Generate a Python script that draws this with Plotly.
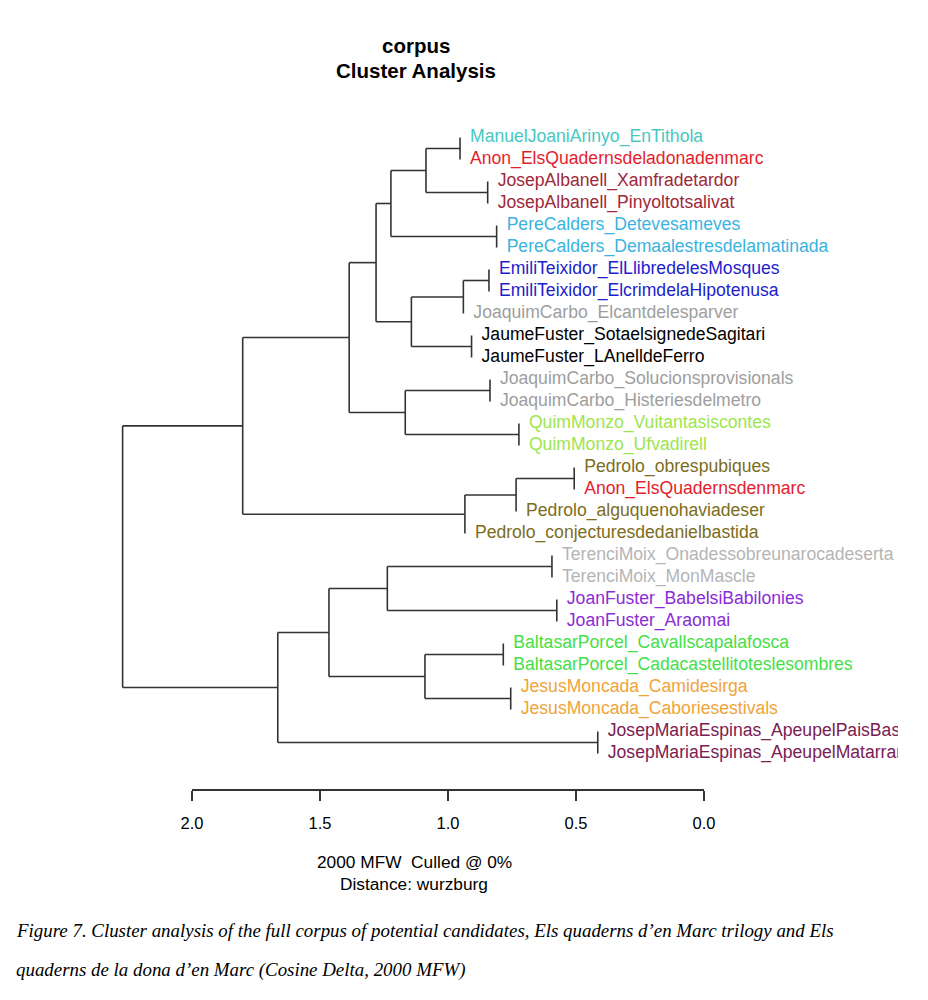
import plotly.graph_objects as go

# ---------------- data ----------------
leaf_labels = [
    "ManuelJoaniArinyo_EnTithola",
    "Anon_ElsQuadernsdeladonadenmarc",
    "JosepAlbanell_Xamfradetardor",
    "JosepAlbanell_Pinyoltotsalivat",
    "PereCalders_Detevesameves",
    "PereCalders_Demaalestresdelamatinada",
    "EmiliTeixidor_ElLlibredelesMosques",
    "EmiliTeixidor_ElcrimdelaHipotenusa",
    "JoaquimCarbo_Elcantdelesparver",
    "JaumeFuster_SotaelsignedeSagitari",
    "JaumeFuster_LAnelldeFerro",
    "JoaquimCarbo_Solucionsprovisionals",
    "JoaquimCarbo_Histeriesdelmetro",
    "QuimMonzo_Vuitantasiscontes",
    "QuimMonzo_Ufvadirell",
    "Pedrolo_obrespubiques",
    "Anon_ElsQuadernsdenmarc",
    "Pedrolo_alguquenohaviadeser",
    "Pedrolo_conjecturesdedanielbastida",
    "TerenciMoix_Onadessobreunarocadeserta",
    "TerenciMoix_MonMascle",
    "JoanFuster_BabelsiBabilonies",
    "JoanFuster_Araomai",
    "BaltasarPorcel_Cavallscapalafosca",
    "BaltasarPorcel_Cadacastellitoteslesombres",
    "JesusMoncada_Camidesirga",
    "JesusMoncada_Caboriesestivals",
    "JosepMariaEspinas_ApeupelPaisBasc",
    "JosepMariaEspinas_ApeupelMatarranya",
]

leaf_colors = [
    "#48C8C2", "#E41E2D", "#A0283A", "#A0283A", "#3BB3E0", "#3BB3E0",
    "#1E1ECC", "#1E1ECC", "#9E9E9E", "#000000", "#000000", "#9E9E9E",
    "#9E9E9E", "#9DE64E", "#9DE64E", "#7C6D1C", "#E41E2D", "#7C6D1C",
    "#7C6D1C", "#B5B5B5", "#B5B5B5", "#8A2BD8", "#8A2BD8", "#45E045",
    "#45E045", "#F0A43A", "#F0A43A", "#7A2052", "#7A2052",
]

# merges: node ids < 29 are leaves, ids >= 29 are earlier merges (29 + index)
merge_left = [0, 2, 29, 4, 31, 6, 34, 9, 35, 33, 11, 13, 39, 38,
              15, 43, 44, 42, 19, 21, 47, 23, 25, 50, 49, 27, 53, 46]
merge_right = [1, 3, 30, 5, 32, 7, 8, 10, 36, 37, 12, 14, 40, 41,
               16, 17, 18, 45, 20, 22, 48, 24, 26, 51, 52, 28, 54, 55]
merge_height = [0.953, 0.845, 1.086, 0.810, 1.223, 0.840, 0.940, 0.908,
                1.143, 1.281, 0.836, 0.723, 1.167, 1.386, 0.507, 0.734,
                0.934, 1.802, 0.594, 0.575, 1.237, 0.784, 0.755, 1.090,
                1.465, 0.415, 1.665, 2.271]

tick_values = [2.0, 1.5, 1.0, 0.5, 0.0]
tick_labels = ["2.0", "1.5", "1.0", "0.5", "0.0"]

# ---------------- layout constants ----------------
W, H = 928, 1000
OFF = 8                          # page body margin compensation
PX_D2, PX_D0 = 192, 704          # target pixel x of distance 2.0 and 0.0
PX_PER_UNIT = (PX_D0 - PX_D2) / 2.0
PLOT_L, PLOT_R = 100, 898
PLOT_T, PLOT_B = 120, 770
LEAF_Y0, LEAF_DY = 137.5, 22
AXIS_Y = 790
LINE_COLOR = "#333333"
FONT = "Liberation Sans, Arial, Helvetica, sans-serif"


def fx(p):
    return (p - OFF) / W


def fy(p):
    return 1 - (p - OFF) / H


def d_of_px(p):
    return (PX_D0 - p) / PX_PER_UNIT


def idx_of_py(p):
    return 1 + (p - LEAF_Y0) / LEAF_DY


n_leaves = len(leaf_labels)
node_y = {i: i + 1 for i in range(n_leaves)}
node_h = {i: None for i in range(n_leaves)}
leaf_parent_h = [0.0] * n_leaves
for j, (a, b, h) in enumerate(zip(merge_left, merge_right, merge_height)):
    nid = n_leaves + j
    node_y[nid] = (node_y[a] + node_y[b]) / 2.0
    node_h[nid] = h
    for c in (a, b):
        if c < n_leaves:
            leaf_parent_h[c] = h

# tree segments
xs, ys = [], []
for j, (a, b, h) in enumerate(zip(merge_left, merge_right, merge_height)):
    xs += [h, h, None]
    ys += [node_y[a], node_y[b], None]
    for c in (a, b):
        if c >= n_leaves:
            xs += [h, node_h[c], None]
            ys += [node_y[c], node_y[c], None]

fig = go.Figure()
fig.add_trace(go.Scatter(
    x=xs, y=ys, mode="lines",
    line=dict(color=LINE_COLOR, width=1.6),
    hoverinfo="skip", showlegend=False,
))

LABEL_GAP = 10 / PX_PER_UNIT
fig.add_trace(go.Scatter(
    x=[h - LABEL_GAP for h in leaf_parent_h],
    y=[node_y[i] for i in range(n_leaves)],
    mode="text", text=leaf_labels, textposition="middle right",
    textfont=dict(family=FONT, size=17.6, color=leaf_colors),
    cliponaxis=True, hoverinfo="skip", showlegend=False,
))

# invisible trace to host the visible distance axis
fig.add_trace(go.Scatter(
    x=[1.0], y=[15], xaxis="x2", yaxis="y", mode="markers",
    marker=dict(opacity=0), hoverinfo="skip", showlegend=False,
))

annotations = []
for txt, py in [("<b>corpus</b>", 45), ("<b>Cluster Analysis</b>", 70)]:
    annotations.append(dict(
        text=txt, x=fx(416), y=fy(py), xref="paper", yref="paper",
        showarrow=False, xanchor="center", yanchor="middle",
        font=dict(family=FONT, size=20.5, color="#000000")))

for txt, py in [("2000 MFW  Culled @ 0%", 862), ("Distance: wurzburg", 884)]:
    annotations.append(dict(
        text=txt, x=fx(414), y=fy(py), xref="paper", yref="paper",
        showarrow=False, xanchor="center", yanchor="middle",
        font=dict(family=FONT, size=17.3, color="#000000")))

caption_lines = [
    "Figure 7. Cluster analysis of the full corpus of potential candidates, "
    "Els quaderns d’en Marc trilogy and Els",
    "quaderns de la dona d’en Marc (Cosine Delta, 2000 MFW)",
]
for txt, py in zip(caption_lines, [930, 970]):
    annotations.append(dict(
        text="<i>" + txt + "</i>", x=fx(14), y=fy(py),
        xref="paper", yref="paper", showarrow=False,
        xanchor="left", yanchor="middle",
        font=dict(family="Liberation Serif, Times New Roman, serif",
                  size=18.9, color="#000000")))

fig.update_layout(
    width=W, height=H,
    margin=dict(l=0, r=0, t=0, b=0, pad=0, autoexpand=False),
    paper_bgcolor="white", plot_bgcolor="rgba(0,0,0,0)",
    showlegend=False,
    xaxis=dict(domain=[fx(PLOT_L), fx(PLOT_R)],
               range=[d_of_px(PLOT_L), d_of_px(PLOT_R)],
               visible=False, fixedrange=True, automargin=False),
    yaxis=dict(domain=[fy(PLOT_B), fy(PLOT_T)],
               range=[idx_of_py(PLOT_B), idx_of_py(PLOT_T)],
               visible=False, fixedrange=True, automargin=False),
    xaxis2=dict(domain=[fx(PX_D2), fx(PX_D0)], range=[2.0, 0.0],
                anchor="free", position=fy(AXIS_Y), side="bottom",
                showline=True, linecolor=LINE_COLOR, linewidth=1.5,
                ticks="outside", ticklen=10, tickwidth=1.5,
                tickcolor=LINE_COLOR, ticklabelstandoff=8,
                tickvals=tick_values, ticktext=tick_labels,
                tickfont=dict(family=FONT, size=16.5, color="#000000"),
                showgrid=False, zeroline=False, fixedrange=True,
                automargin=False),
    annotations=annotations,
)

fig.write_html("out.html")
